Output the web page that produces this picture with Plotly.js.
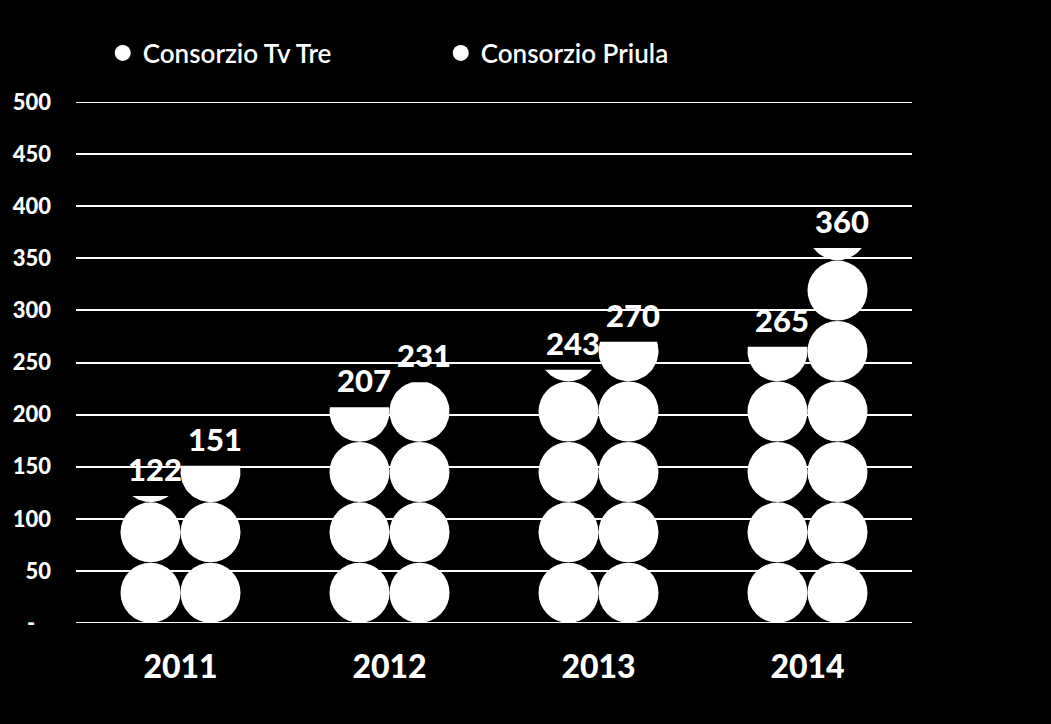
<!DOCTYPE html>
<html>
<head>
<meta charset="utf-8">
<script src="https://cdn.plot.ly/plotly-3.0.1.min.js"></script>
<style>
  html, body { margin: 0; padding: 0; background: #000; }
  #chart { width: 1051px; height: 724px; }
</style>
</head>
<body>
<div id="chart"></div>
<script>
// ---- data ----
const years = ['2011', '2012', '2013', '2014'];
const tvTre = [122, 207, 243, 265];
const priula = [151, 231, 270, 360];
const seriesNames = ['Consorzio Tv Tre', 'Consorzio Priula'];
const yTickVals = [0, 50, 100, 150, 200, 250, 300, 350, 400, 450, 500];
const yTickText = ['-\u00a0\u00a0\u00a0', '50', '100', '150', '200', '250', '300', '350', '400', '450', '500'];
const unitsPerPicture = 58;   // value represented by one circle

// ---- geometry / style ----
const W = 1051, H = 724;
const M = { l: 76, r: 139, t: 102, b: 101 };
const plotW = W - M.l - M.r;
const xRange = [-0.5, years.length - 0.5];
const pxPerX = plotW / (xRange[1] - xRange[0]);
const circlePx = 60;
const halfOffset = (circlePx / 2) / pxPerX;   // bar centre offset from category
const rx = (circlePx / 2) / pxPerX;
const ry = unitsPerPicture / 2;
const FONT = 'Lato, "Open Sans", sans-serif';

const traces = [];
const annotations = [];
const allSeries = [tvTre, priula];
allSeries.forEach((vals, si) => {
  const off = si === 0 ? -halfOffset : halfOffset;
  const fx = [], fy = [];
  vals.forEach((v, ci) => {
    const cx = ci + off;
    const nFull = Math.floor(v / unitsPerPicture);
    for (let k = 0; k < nFull; k++) {
      fx.push(cx);
      fy.push((k + 0.5) * unitsPerPicture);
    }
    const rem = v - nFull * unitsPerPicture;
    if (rem > 0) {
      // bottom segment of the next circle, cut at the value
      const cy = (nFull + 0.5) * unitsPerPicture;
      const s = Math.max(-1, Math.min(1, (v - cy) / ry));
      const a0 = Math.PI - Math.asin(s), a1 = 2 * Math.PI + Math.asin(s);
      const px = [], py = [];
      const N = 48;
      for (let i = 0; i <= N; i++) {
        const a = a0 + (a1 - a0) * i / N;
        px.push(cx + rx * Math.cos(a));
        py.push(cy + ry * Math.sin(a));
      }
      px.push(px[0]); py.push(py[0]);
      traces.push({
        x: px, y: py, type: 'scatter', mode: 'lines', fill: 'toself',
        fillcolor: '#ffffff', line: { width: 0, color: '#ffffff' },
        showlegend: false, hoverinfo: 'skip'
      });
    }
    annotations.push({
      x: cx, y: v, xref: 'x', yref: 'y', text: String(v),
      showarrow: false, yanchor: 'bottom', xanchor: 'center',
      yshift: 6, xshift: 4,
      font: { family: FONT, size: 31, color: '#ffffff', weight: 900 }
    });
  });
  traces.push({
    x: fx, y: fy, type: 'scatter', mode: 'markers', name: seriesNames[si],
    marker: { symbol: 'circle', size: circlePx, color: '#ffffff', line: { width: 0 } },
    hoverinfo: 'skip'
  });
});

const layout = {
  width: W, height: H,
  margin: M,
  paper_bgcolor: '#000000',
  plot_bgcolor: '#000000',
  showlegend: true,
  legend: {
    orientation: 'h', x: 0.032, xanchor: 'left', y: 1.094, yanchor: 'middle',
    font: { family: FONT, size: 26, color: '#ffffff', weight: 600 },
    entrywidth: 293, traceorder: 'normal', bgcolor: 'rgba(0,0,0,0)',
    itemsizing: 'trace'
  },
  xaxis: {
    range: xRange, tickvals: years.map((_, i) => i), ticktext: years,
    showgrid: false, zeroline: false, showline: false, ticks: '',
    ticklabelstandoff: 22,
    tickfont: { family: FONT, size: 32, color: '#ffffff', weight: 900 },
    fixedrange: true
  },
  yaxis: {
    range: [0, 500], tickvals: yTickVals, ticktext: yTickText,
    showgrid: true, gridcolor: '#ffffff', gridwidth: 2,
    zeroline: false, showline: false, ticks: '',
    ticklabelstandoff: 24,
    tickfont: { family: FONT, size: 22, color: '#ffffff', weight: 900 },
    fixedrange: true
  },
  shapes: [0, 500].map(v => ({
    type: 'line', xref: 'paper', yref: 'y', x0: 0, x1: 1, y0: v, y1: v,
    line: { color: '#ffffff', width: 2 }, layer: 'below'
  })),
  annotations: annotations
};

Plotly.newPlot('chart', traces, layout, { displayModeBar: false, staticPlot: true });
</script>
</body>
</html>
